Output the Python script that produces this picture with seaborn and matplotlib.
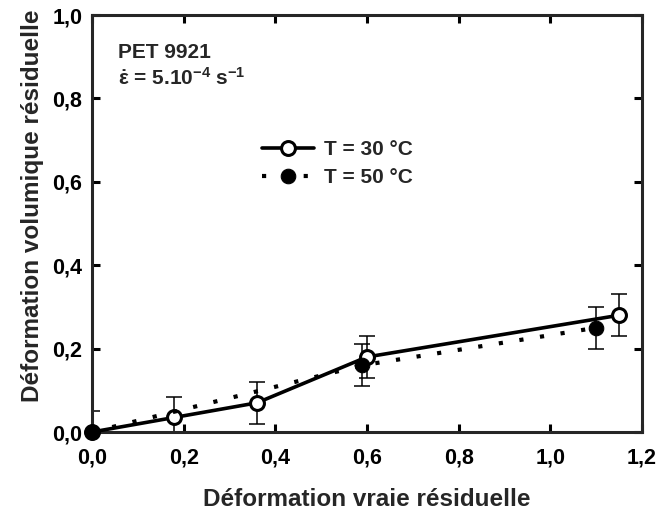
import matplotlib
matplotlib.use("Agg")
import matplotlib.pyplot as plt
from matplotlib.ticker import FuncFormatter
import pandas as pd
import seaborn as sns

# Data
strain_30 = [0.0, 0.18, 0.36, 0.60, 1.15]
vol_30 = [0.0, 0.035, 0.07, 0.18, 0.28]
err_30 = [0.05, 0.05, 0.05, 0.05, 0.05]

strain_50 = [0.0, 0.59, 1.10]
vol_50 = [0.0, 0.16, 0.25]
err_50 = [0.0, 0.05, 0.05]

labels = ["T = 30 °C", "T = 50 °C"]
xticks = [0.0, 0.2, 0.4, 0.6, 0.8, 1.0, 1.2]
yticks = [0.0, 0.2, 0.4, 0.6, 0.8, 1.0]

sns.set_style("ticks")
plt.rcParams['font.family'] = ['Liberation Sans', 'DejaVu Sans']
plt.rcParams['font.weight'] = 'bold'
plt.rcParams['mathtext.fontset'] = 'custom'
plt.rcParams['mathtext.rm'] = 'Liberation Sans:bold'
plt.rcParams['mathtext.it'] = 'Liberation Sans:bold'
plt.rcParams['mathtext.bf'] = 'Liberation Sans:bold'

df30 = pd.DataFrame({'x': strain_30, 'y': vol_30})
df50 = pd.DataFrame({'x': strain_50, 'y': vol_50})

fig = plt.figure(figsize=(6.59, 5.18), dpi=100)
ax = fig.add_axes([0.1396, 0.166, 0.8346, 0.805])

# error bars
ax.errorbar(strain_30, vol_30, yerr=err_30, fmt='none', ecolor='black',
            elinewidth=1.1, capsize=6, capthick=1.1, zorder=2)
ax.errorbar(strain_50, vol_50, yerr=err_50, fmt='none', ecolor='black',
            elinewidth=1.1, capsize=6, capthick=1.1, zorder=2)

dots = (0, (1, 4.0))
sns.lineplot(data=df30, x='x', y='y', ax=ax, color='black', lw=2.6,
             marker='o', markersize=10, markerfacecolor='white',
             markeredgecolor='black', markeredgewidth=2.2,
             label=labels[0], clip_on=False, zorder=3, sort=False)
sns.lineplot(data=df50, x='x', y='y', ax=ax, color='black', lw=3.0,
             linestyle=dots, dash_capstyle='butt',
             marker='o', markersize=10.5, markerfacecolor='black',
             markeredgecolor='black', label=labels[1], clip_on=False,
             zorder=4, sort=False)

ax.set_xlim(0, 1.2)
ax.set_ylim(0, 1.0)
ax.set_xticks(xticks)
ax.set_yticks(yticks)
fmt = FuncFormatter(lambda v, p: f"{v:.1f}".replace('.', ','))
ax.xaxis.set_major_formatter(fmt)
ax.yaxis.set_major_formatter(fmt)

for s in ax.spines.values():
    s.set_linewidth(2.2)
    s.set_visible(True)
ax.tick_params(direction='in', length=6, width=2.2, top=True, right=True,
               labelsize=15.5, colors='black')
ax.tick_params(axis='x', pad=11)
ax.tick_params(axis='y', pad=7)

ax.set_xlabel("Déformation vraie résiduelle", fontsize=17.5,
              fontweight='bold', labelpad=14)
ax.set_ylabel("Déformation volumique résiduelle", fontsize=17.5,
              fontweight='bold')
ax.yaxis.set_label_coords(-0.088, 0.542)

ax.text(0.047, 0.897, "PET 9921", transform=ax.transAxes, fontsize=15,
        fontweight='bold', va='baseline')
ax.text(0.047, 0.832, r"$\dot{\varepsilon}$ = 5.10$^{-4}$ s$^{-1}$",
        transform=ax.transAxes, fontsize=15, fontweight='bold', va='baseline')

leg = ax.legend(loc='upper left', bbox_to_anchor=(0.309, 0.70),
                frameon=False, fontsize=15, handlelength=2.5,
                handletextpad=0.5, labelspacing=0.45, borderpad=0,
                borderaxespad=0)

fig.savefig("out.png", dpi=100)
